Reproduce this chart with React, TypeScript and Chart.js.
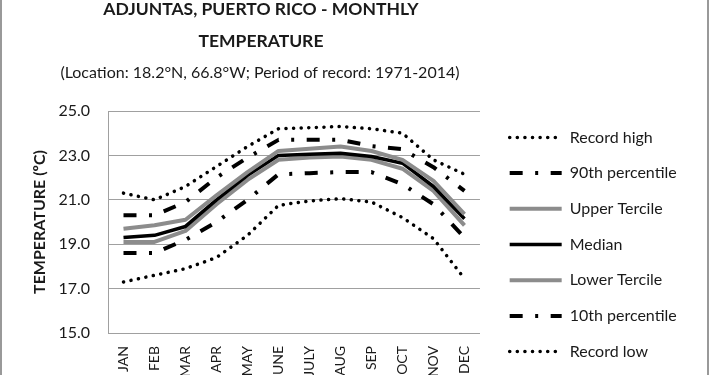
import React, { useEffect, useRef } from 'react';
import { Chart, registerables } from 'chart.js';

Chart.register(...registerables);

// ---- data ----
const MONTHS = ['JAN', 'FEB', 'MAR', 'APR', 'MAY', 'JUNE', 'JULY', 'AUG', 'SEP', 'OCT', 'NOV', 'DEC'];
const RECORD_HIGH = [21.3, 21.0, 21.6, 22.5, 23.4, 24.2, 24.25, 24.3, 24.2, 24.0, 22.8, 22.15];
const P90 = [20.3, 20.3, 20.9, 22.0, 22.9, 23.7, 23.7, 23.7, 23.42, 23.28, 22.47, 21.4];
const UPPER_TERCILE = [19.7, 19.85, 20.1, 21.2, 22.25, 23.2, 23.3, 23.4, 23.2, 22.8, 21.85, 20.35];
const MEDIAN = [19.3, 19.4, 19.8, 21.0, 22.1, 23.0, 23.05, 23.1, 22.95, 22.65, 21.6, 20.15];
const LOWER_TERCILE = [19.1, 19.1, 19.6, 20.8, 21.9, 22.8, 22.9, 22.95, 22.8, 22.4, 21.4, 19.85];
const P10 = [18.6, 18.6, 19.2, 20.0, 21.0, 22.15, 22.2, 22.25, 22.25, 21.7, 20.8, 19.3];
const RECORD_LOW = [17.3, 17.6, 17.9, 18.4, 19.4, 20.75, 20.95, 21.05, 20.9, 20.2, 19.25, 17.45];

const SERIES_NAMES = ['Record high', '90th percentile', 'Upper Tercile', 'Median', 'Lower Tercile', '10th percentile', 'Record low'];
const TITLE_LINES = ['ADJUNTAS, PUERTO RICO - MONTHLY', 'TEMPERATURE'];
const SUBTITLE = '(Location: 18.2°N, 66.8°W; Period of record: 1971-2014)';
const Y_TITLE = 'TEMPERATURE (ºC)';
const Y_MIN = 15;
const Y_MAX = 25;
const Y_STEP = 2;

// ---- styles ----
const TEXT = '#1a1a1a';
const GRID = '#a0a0a0';
const GRAY = '#8c8c8c';
const DOTTED = [0.1, 7.5];
const DASH_DOT = [13, 12.5, 3, 12.5];

const shiftPlugin = {
  id: 'shiftBoxes',
  afterLayout(chart: any, _args: any, opts: any) {
    const title = chart.titleBlock;
    for (const box of chart.boxes) {
      let dx = 0;
      let dy = 0;
      if (box === title) {
        dx = opts.titleDx;
      } else if (title && box.constructor === title.constructor) {
        dx = opts.subtitleDx;
      } else if (box === chart.legend) {
        dx = opts.legendDx;
        dy = opts.legendDy;
        box.width = opts.legendWidth;
        box.right = box.left + opts.legendWidth;
      } else {
        continue;
      }
      box.left += dx;
      box.right += dx;
      box.top += dy;
      box.bottom += dy;
    }
  },
};

export default function App() {
  const ref = useRef<HTMLCanvasElement | null>(null);

  useEffect(() => {
    if (!ref.current) return;
    Chart.defaults.font.family = 'Lato, "Liberation Sans", sans-serif';
    Chart.defaults.color = TEXT;

    const mk = (label: string, data: number[], color: string, width: number, dash: number[], cap: CanvasLineCap) => ({
      label,
      data,
      borderColor: color,
      backgroundColor: color,
      borderWidth: width,
      borderDash: dash,
      borderCapStyle: cap,
      borderJoinStyle: 'round' as CanvasLineJoin,
      pointRadius: 0,
      pointHoverRadius: 0,
      tension: 0,
      fill: false,
    });

    const datasets = [
      mk(SERIES_NAMES[0], RECORD_HIGH, '#000', 3.5, DOTTED, 'round'),
      mk(SERIES_NAMES[1], P90, '#000', 4, DASH_DOT, 'butt'),
      mk(SERIES_NAMES[2], UPPER_TERCILE, GRAY, 4, [], 'butt'),
      mk(SERIES_NAMES[3], MEDIAN, '#000', 3.5, [], 'butt'),
      mk(SERIES_NAMES[4], LOWER_TERCILE, GRAY, 4, [], 'butt'),
      mk(SERIES_NAMES[5], P10, '#000', 4, DASH_DOT, 'butt'),
      mk(SERIES_NAMES[6], RECORD_LOW, '#000', 3.5, DOTTED, 'round'),
    ];

    const chart = new Chart(ref.current, {
      type: 'line',
      data: { labels: MONTHS, datasets },
      plugins: [shiftPlugin],
      options: {
        animation: false,
        responsive: false,
        devicePixelRatio: 1,
        layout: { padding: { left: 0, right: 67.7, top: 0, bottom: 0 } },
        plugins: {
          shiftBoxes: { titleDx: -59.7, subtitleDx: -60.7, legendDx: 10, legendDy: 50.5, legendWidth: 215 },
          title: {
            display: true,
            text: TITLE_LINES,
            color: TEXT,
            font: { size: 17.5, weight: 'bold', lineHeight: 1.8 },
            padding: { top: 0, bottom: 0 },
          },
          subtitle: {
            display: true,
            text: SUBTITLE,
            color: TEXT,
            font: { size: 16, lineHeight: 1.2 },
            padding: { top: 6.4, bottom: 28.4 },
          },
          legend: {
            display: true,
            position: 'right',
            labels: {
              usePointStyle: true,
              pointStyle: 'line',
              pointStyleWidth: 52,
              padding: 19.7,
              color: TEXT,
              font: { size: 16 },
              generateLabels: (c: any) =>
                c.data.datasets.map((ds: any, i: number) => ({
                  text: ds.label,
                  fillStyle: 'rgba(0,0,0,0)',
                  strokeStyle: ds.borderColor,
                  lineWidth: ds.borderWidth,
                  lineDash: ds.borderDash,
                  lineCap: ds.borderCapStyle,
                  pointStyle: 'line',
                  hidden: false,
                  datasetIndex: i,
                  fontColor: TEXT,
                })),
            },
          },
          tooltip: { enabled: false },
        },
        scales: {
          x: {
            offset: true,
            grid: { display: false, drawTicks: false, offset: true },
            border: { display: true, color: GRID, width: 1 },
            ticks: {
              minRotation: 90,
              maxRotation: 90,
              autoSkip: false,
              padding: 13,
              color: TEXT,
              font: { size: 14 },
            },
          },
          y: {
            min: Y_MIN,
            max: Y_MAX,
            afterFit: (s: any) => {
              s.width = 106;
            },
            grid: { color: GRID, lineWidth: 1, drawTicks: false },
            border: { display: true, color: GRID, width: 1 },
            ticks: {
              stepSize: Y_STEP,
              padding: 18,
              color: TEXT,
              font: { size: 16 },
              callback: (v: any) => Number(v).toFixed(1),
            },
            title: {
              display: true,
              text: Y_TITLE,
              color: TEXT,
              font: { size: 16, weight: 'bold', lineHeight: 1.2 },
              padding: { top: 28.4, bottom: 0 },
            },
          },
        },
      } as any,
    });
    return () => chart.destroy();
  }, []);

  return (
    <div
      style={{
        position: 'absolute',
        left: 0,
        top: 0,
        width: 709,
        height: 375,
        overflow: 'hidden',
        background: '#fff',
        boxSizing: 'border-box',
        borderLeft: '2px solid #999',
        borderRight: '2px solid #999',
      }}
    >
      <div style={{ position: 'absolute', left: 0, top: -6, width: 705, height: 400 }}>
        <canvas ref={ref} width={705} height={400} style={{ display: 'block' }} />
      </div>
    </div>
  );
}
